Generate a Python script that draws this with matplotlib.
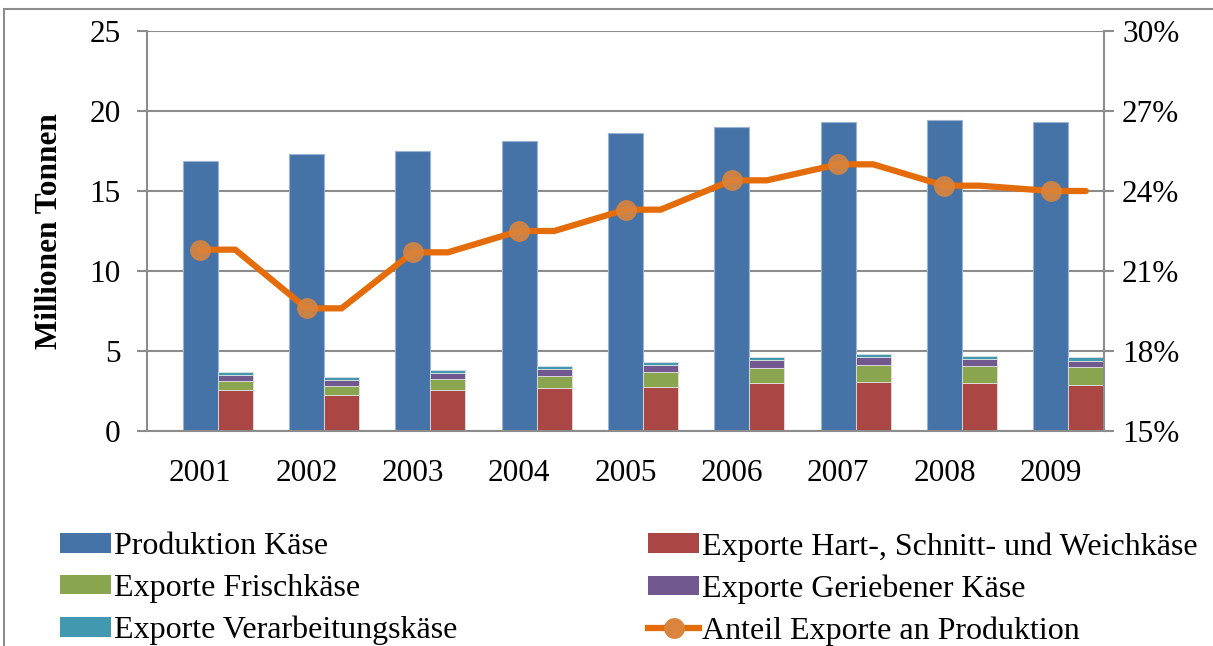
import numpy as np
import matplotlib.pyplot as plt
from matplotlib.patches import Rectangle
from matplotlib.lines import Line2D
from matplotlib.ticker import FuncFormatter

plt.rcParams['font.family'] = ['Liberation Serif', 'DejaVu Serif']

# Daten (Millionen Tonnen bzw. Anteil in %)
jahre = ['2001', '2002', '2003', '2004', '2005', '2006', '2007', '2008', '2009']
produktion = [16.9, 17.3, 17.5, 18.1, 18.6, 19.0, 19.3, 19.45, 19.3]
exp_hart = [2.59, 2.24, 2.55, 2.68, 2.78, 3.00, 3.06, 3.00, 2.89]
exp_frisch = [0.55, 0.57, 0.68, 0.76, 0.89, 0.95, 1.05, 1.05, 1.10]
exp_gerieben = [0.36, 0.38, 0.40, 0.44, 0.47, 0.50, 0.53, 0.46, 0.40]
exp_verarb = [0.17, 0.16, 0.17, 0.19, 0.18, 0.17, 0.17, 0.19, 0.25]
anteil = [21.8, 19.6, 21.7, 22.5, 23.3, 24.4, 25.0, 24.2, 24.0]

c_blau = '#4572A7'
c_rot = '#AA4643'
c_gruen = '#89A54E'
c_lila = '#71588F'
c_tuerkis = '#4198AF'
c_orange = '#E46C0A'
c_marker = '#DB843D'
c_grau = '#8C8C8C'

fig = plt.figure(figsize=(12.13, 6.46), dpi=100)
# aeusserer Rahmen
fig.patches.append(Rectangle((4 / 1213, -0.1), 1.2, 1 - 9 / 646 + 0.1,
                             transform=fig.transFigure, fill=False,
                             edgecolor=c_grau, linewidth=1.5))

ax = fig.add_axes([147 / 1213, 1 - 431 / 646, (1104 - 147) / 1213, 400 / 646])
x = np.arange(len(jahre))
w = 0.33

ax.bar(x, produktion, w, color=c_blau, edgecolor='#9DB3D3', linewidth=0.8, zorder=2)
unten = np.zeros(len(jahre))
for werte, farbe in [(exp_hart, c_rot), (exp_frisch, c_gruen),
                     (exp_gerieben, c_lila), (exp_verarb, c_tuerkis)]:
    ax.bar(x + w, werte, w, bottom=unten, color=farbe, edgecolor='#E0E0E0',
           linewidth=0.6, zorder=2)
    unten = unten + np.array(werte)

ax.set_xlim(-0.5, len(jahre) - 0.5)
ax.set_ylim(0, 25)
ax.set_yticks(range(0, 26, 5))
ax.set_xticks(x)
ax.set_xticklabels(jahre)
ax.yaxis.grid(True, color=c_grau, linewidth=1.5, zorder=0)
ax.set_axisbelow(True)
for s in ['left', 'right', 'bottom']:
    ax.spines[s].set_color(c_grau)
    ax.spines[s].set_linewidth(1.5)
ax.spines['top'].set_visible(False)
ax.tick_params(axis='y', colors=c_grau, length=7, width=1.5, labelcolor='black',
               labelsize=22.5, pad=12)
ax.tick_params(axis='x', length=0, labelsize=22.5, pad=20)
ax.set_ylabel('Millionen Tonnen', fontsize=22.5, fontweight='bold', labelpad=18)

ax2 = ax.twinx()
ax2.set_ylim(15, 30)
ax2.set_yticks(range(15, 31, 3))
ax2.yaxis.set_major_formatter(FuncFormatter(lambda v, p: f'{v:.0f}%'))
ax2.tick_params(axis='y', colors=c_grau, length=7, width=1.5, labelcolor='black',
                labelsize=22.5, pad=6)
for s in ax2.spines.values():
    s.set_visible(False)

# Linie: je Jahr zwei Punkte (Produktions- und Exportsaeule)
lx = np.ravel(np.column_stack([x, x + w]))
ly = np.repeat(anteil, 2)
ax2.plot(lx, ly, color=c_orange, linewidth=4.5, solid_joinstyle='miter',
         solid_capstyle='round', zorder=3)
ax2.plot(x, anteil, 'o', color=c_marker, markersize=15, alpha=0.9, zorder=4,
         markeredgewidth=0)

def patch(c):
    return Rectangle((0, 0), 1, 1, facecolor=c, edgecolor='none')

linie = Line2D([], [], color=c_orange, linewidth=4.5, marker='o',
               markersize=15, markerfacecolor=c_marker, markeredgewidth=0)

kw = dict(frameon=False, fontsize=23, handlelength=1.6, handleheight=0.57,
          handletextpad=0.1, labelspacing=0.4, borderaxespad=0, borderpad=0)
fig.legend([patch(c_blau), patch(c_gruen), patch(c_tuerkis)],
           ['Produktion Käse', 'Exporte Frischkäse', 'Exporte Verarbeitungskäse'],
           loc='upper left', bbox_to_anchor=(60 / 1213, 1 - 532 / 646), **kw)
fig.legend([patch(c_rot), patch(c_lila), linie],
           ['Exporte Hart-, Schnitt- und Weichkäse', 'Exporte Geriebener Käse',
            'Anteil Exporte an Produktion'],
           loc='upper left', bbox_to_anchor=(648 / 1213, 1 - 532 / 646), **kw)

fig.savefig('out.png', dpi=100)
